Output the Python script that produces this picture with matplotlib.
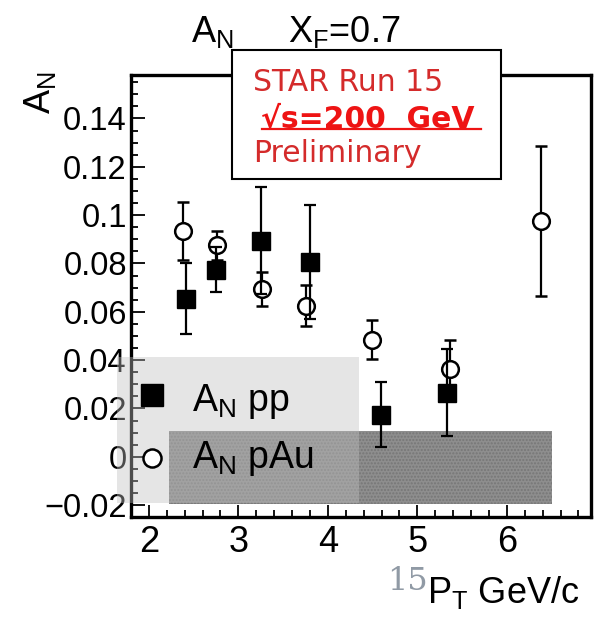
import matplotlib
matplotlib.use('Agg')
import matplotlib.pyplot as plt
from matplotlib.patches import Rectangle
from matplotlib.lines import Line2D
from matplotlib.ticker import FixedLocator, FixedFormatter, MultipleLocator

plt.rcParams['font.family'] = ['Liberation Sans', 'DejaVu Sans']
plt.rcParams['mathtext.default'] = 'regular'
plt.rcParams['hatch.linewidth'] = 1.0

# ---------------- data ----------------
pp_x = [2.41, 2.75, 3.25, 3.80, 4.59, 5.33]
pp_y = [0.0655, 0.0775, 0.0895, 0.0805, 0.0175, 0.0265]
pp_err = [0.0145, 0.0095, 0.0220, 0.0235, 0.0135, 0.0180]

pau_x = [2.38, 2.76, 3.26, 3.76, 4.49, 5.36, 6.38]
pau_y = [0.0935, 0.0875, 0.0695, 0.0625, 0.0485, 0.0362, 0.0975]
pau_err = [0.0120, 0.0060, 0.0070, 0.0084, 0.0080, 0.0120, 0.0310]

band_x = [2.22, 6.50]
band_lo = [-0.0195, -0.0195]
band_hi = [0.0106, 0.0106]

x_ticks = [2, 3, 4, 5, 6]
x_tick_labels = ['2', '3', '4', '5', '6']
y_ticks = [-0.02, 0.0, 0.02, 0.04, 0.06, 0.08, 0.10, 0.12, 0.14]
y_tick_labels = ['\u22120.02', '0', '0.02', '0.04', '0.06', '0.08', '0.1', '0.12', '0.14']

legend_labels = ['A$_N$ pp', 'A$_N$ pAu']

# ---------------- figure ----------------
W, H = 598, 624
fig = plt.figure(figsize=(W / 100, H / 100), dpi=100)
fig.patch.set_facecolor('white')


def fx(px):
    return px / W


def fy(py):
    return 1 - py / H


ax = fig.add_axes([fx(131), fy(517), (591 - 131) / W, (517 - 75) / H])
ax.set_xlim(1.8, 6.94)
ax.set_ylim(-0.0249, 0.158)

# systematic band
ax.fill_between(band_x, band_lo, band_hi, facecolor='#8e8e8e', edgecolor='#767676',
                hatch='.....', linewidth=0, zorder=1)

# data
ax.errorbar(pau_x, pau_y, yerr=pau_err, fmt='o', ms=12, mfc='white', mec='black',
            mew=1.8, ecolor='black', elinewidth=1.6, capsize=4.5, capthick=1.6, zorder=3)
ax.errorbar(pp_x, pp_y, yerr=pp_err, fmt='s', ms=13, mfc='black', mec='black',
            ecolor='black', elinewidth=1.6, capsize=4.5, capthick=1.6, zorder=4)

# axes style
for side in ['left', 'bottom', 'right', 'top']:
    ax.spines[side].set_linewidth(2.4)
ax.xaxis.set_major_locator(FixedLocator(x_ticks))
ax.xaxis.set_major_formatter(FixedFormatter(x_tick_labels))
ax.xaxis.set_minor_locator(MultipleLocator(0.2))
ax.yaxis.set_major_locator(FixedLocator(y_ticks))
ax.yaxis.set_major_formatter(FixedFormatter(y_tick_labels))
ax.yaxis.set_minor_locator(MultipleLocator(0.005))
ax.tick_params(axis='both', which='both', direction='in', top=False, right=False, width=1.3)
ax.tick_params(axis='x', which='major', length=9, labelsize=26, pad=6)
ax.tick_params(axis='x', which='minor', length=5)
ax.tick_params(axis='y', which='major', length=10, labelsize=23.5, pad=3)
ax.tick_params(axis='y', which='minor', length=5)

# legend background (semi-transparent)
fig.add_artist(Rectangle((fx(117), fy(503)), (359 - 117) / W, (503 - 357) / H,
                         transform=fig.transFigure, facecolor='#c0c0c0', alpha=0.4,
                         edgecolor='none', zorder=5))
fig.add_artist(Line2D([fx(152)], [fy(395)], marker='s', ms=16, mfc='black', mec='black',
                      linestyle='none', transform=fig.transFigure, zorder=6))
fig.add_artist(Line2D([fx(152)], [fy(458)], marker='o', ms=13, mfc='white', mec='black',
                      mew=1.8, linestyle='none', transform=fig.transFigure, zorder=6))
fig.text(fx(192), fy(411), legend_labels[0], fontsize=27, ha='left', va='baseline', zorder=6)
fig.text(fx(192), fy(468), legend_labels[1], fontsize=27, ha='left', va='baseline', zorder=6)

# title
fig.text(fx(191), fy(42), 'A$_N$', fontsize=26, ha='left', va='baseline')
fig.text(fx(288), fy(42), 'X$_F$=0.7', fontsize=26, ha='left', va='baseline')

# STAR box
fig.add_artist(Rectangle((fx(232), fy(179)), (501 - 232) / W, (179 - 50) / H,
                         transform=fig.transFigure, facecolor='white', edgecolor='black',
                         linewidth=1.5, zorder=7))
fig.text(fx(253), fy(91), 'STAR Run 15', fontsize=21.5, color='#d42b2b', ha='left',
         va='baseline', family='DejaVu Sans', zorder=8)
fig.text(fx(261), fy(127), '\u221as=200  GeV', fontsize=21.5, color='#ee1414', ha='left',
         va='baseline', family='DejaVu Sans', fontweight='bold', zorder=8)
fig.add_artist(Line2D([fx(262), fx(481)], [fy(129), fy(129)], color='#ee1414', lw=1.6,
                      transform=fig.transFigure, zorder=8))
fig.text(fx(253), fy(162), 'Preliminary', fontsize=21.5, color='#d42b2b', ha='left',
         va='baseline', family='DejaVu Sans', zorder=8)

# axis labels
fig.text(fx(40), fy(93), 'A$_N$', fontsize=26, rotation=90, ha='center', va='center')
fig.text(fx(387), fy(590), '15', fontsize=23, color='#909aa5', family='DejaVu Serif',
         ha='left', va='baseline')
fig.text(fx(427), fy(603), 'P$_T$ GeV/c', fontsize=26, ha='left', va='baseline')

fig.savefig('out.png', dpi=100)
